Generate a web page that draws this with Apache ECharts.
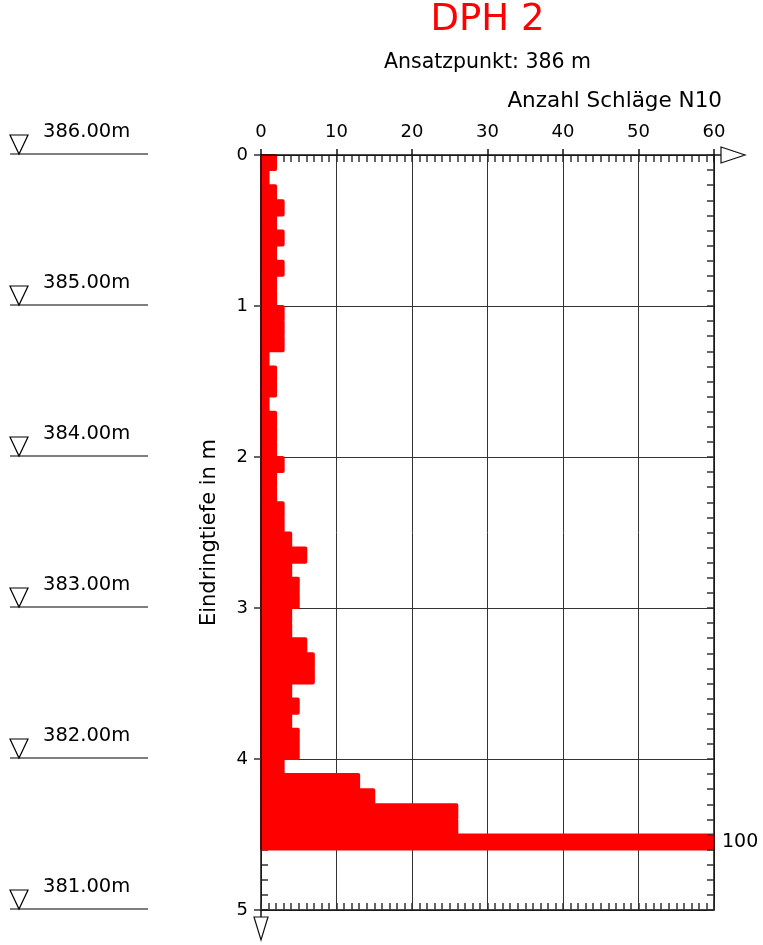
<!DOCTYPE html>
<html>
<head>
<meta charset="utf-8">
<script src="https://cdn.jsdelivr.net/npm/echarts@6/dist/echarts.min.js"></script>
<style>
html,body{margin:0;padding:0;background:#fff;}
#c{width:763px;height:945px;}
</style>
</head>
<body>
<div id="c"></div>
<script>
// ---- data ----
const chartTitle = 'DPH 2';
const subTitle = 'Ansatzpunkt: 386 m';
const xAxisTitle = 'Anzahl Schläge N10';
const yAxisTitle = 'Eindringtiefe in m';
const depthStep = 0.1;
// top depth of each 10 cm interval (m)
const depths = [0.0,0.1,0.2,0.3,0.4,0.5,0.6,0.7,0.8,0.9,
                1.0,1.1,1.2,1.3,1.4,1.5,1.6,1.7,1.8,1.9,
                2.0,2.1,2.2,2.3,2.4,2.5,2.6,2.7,2.8,2.9,
                3.0,3.1,3.2,3.3,3.4,3.5,3.6,3.7,3.8,3.9,
                4.0,4.1,4.2,4.3,4.4,4.5];
// blow counts N10
const blows = [2,1,2,3,2,3,2,3,2,2,
               3,3,3,1,2,2,1,2,2,2,
               3,2,2,3,3,4,6,4,5,5,
               4,4,6,7,7,4,5,4,5,5,
               3,13,15,26,26,100];
const xTicks = [0,10,20,30,40,50,60];
const yTicks = [0,1,2,3,4,5];
const levelDepths = [0,1,2,3,4,5];
const levelLabels = ['386.00m','385.00m','384.00m','383.00m','382.00m','381.00m'];

const X_MAX = xTicks[xTicks.length-1];
const Y_MAX = yTicks[yTicks.length-1];
const FONT = 'DejaVu Sans';
const gridRect = {left:261, top:155, width:453, height:755};
const lineC = '#111';

const chart = echarts.init(document.getElementById('c'), null, {renderer:'canvas'});

function g(){ return Object.assign({}, gridRect); }

function axisLine(show){ return {show:show, onZero:false, lineStyle:{color:lineC, width:1.5}}; }
const hiddenX = (gi, extra) => Object.assign({gridIndex:gi, type:'value', min:0, max:X_MAX,
  axisLine:axisLine(false), axisTick:{show:false}, axisLabel:{show:false}, splitLine:{show:false}}, extra||{});
const hiddenY = (gi, extra) => Object.assign({gridIndex:gi, type:'value', min:0, max:Y_MAX, inverse:true,
  axisLine:axisLine(false), axisTick:{show:false}, axisLabel:{show:false}, splitLine:{show:false}}, extra||{});

const option = {
  animation:false,
  backgroundColor:'#fff',
  grid:[g(), g(), g(), g(), {left:10, top:gridRect.top, width:138, height:gridRect.height}],
  xAxis:[
    // 0: split lines (below bars)
    hiddenX(0,{position:'top', interval:10, splitLine:{show:true, lineStyle:{color:'#333', width:1}}}),
    // 1: main top axis with labels
    hiddenX(1,{position:'top', interval:10, z:10,
      axisLine:axisLine(true),
      axisTick:{show:true, inside:false, length:6, lineStyle:{color:lineC, width:1.5}},
      axisLabel:{show:true, margin:14, fontFamily:FONT, fontSize:18, color:'#000'}}),
    // 2: top minor ticks inside
    hiddenX(2,{position:'top', interval:1,
      axisTick:{show:true, inside:true, length:7, lineStyle:{color:'#333', width:1.5}}}),
    // 3: bottom axis with minor ticks
    hiddenX(3,{position:'bottom', interval:1, z:10,
      axisLine:axisLine(true),
      axisTick:{show:true, inside:true, length:7, lineStyle:{color:'#333', width:1.5}}}),
    // 4: elevation grid
    {gridIndex:4, type:'value', min:0, max:1, show:false}
  ],
  yAxis:[
    hiddenY(0,{position:'left', interval:1, splitLine:{show:true, lineStyle:{color:'#333', width:1}}}),
    hiddenY(1,{position:'left', interval:1, z:10,
      name:yAxisTitle, nameLocation:'middle', nameRotate:90, nameGap:41,
      nameTextStyle:{fontFamily:FONT, fontSize:21, color:'#000'},
      axisLine:axisLine(true),
      axisTick:{show:true, inside:false, length:7, lineStyle:{color:'#333', width:1.5}},
      axisLabel:{show:true, margin:13, fontFamily:FONT, fontSize:18, color:'#000'}}),
    hiddenY(2,{position:'left', interval:0.1,
      axisTick:{show:true, inside:true, length:7, lineStyle:{color:'#333', width:1.5}}}),
    hiddenY(3,{position:'right', interval:0.1, z:10,
      axisLine:axisLine(true),
      axisTick:{show:true, inside:true, length:7, lineStyle:{color:'#333', width:1.5}}}),
    {gridIndex:4, type:'value', min:0, max:Y_MAX, inverse:true, show:false}
  ],
  series:[
    {
      type:'custom', xAxisIndex:0, yAxisIndex:0, z:3, clip:false,
      data: depths.map((d,i)=>[blows[i], d]),
      renderItem:(params, api)=>{
        const v = api.value(0), d = api.value(1);
        const p0 = api.coord([0, d]);
        const p1 = api.coord([Math.min(v, X_MAX), d + depthStep]);
        const children = [{type:'rect',
          shape:{x:p0[0], y:p0[1], width:p1[0]-p0[0], height:p1[1]-p0[1], r:1},
          style:{fill:'#ff0000', stroke:'#ff0000', lineWidth:2, lineJoin:'round'}}];
        if (v > X_MAX) {
          children.push({type:'text', z2:20, style:{text:String(v), x:p1[0]+8, y:(p0[1]+p1[1])/2,
            verticalAlign:'middle', align:'left', fontFamily:FONT, fontSize:19, fill:'#000'}});
        }
        return {type:'group', children};
      }
    },
    {
      type:'custom', xAxisIndex:4, yAxisIndex:4, clip:false,
      data: levelDepths.map((d,i)=>[0, d, levelLabels[i]]),
      renderItem:(params, api)=>{
        const d = api.value(1);
        const a = api.coord([0, d]);
        const b = api.coord([1, d]);
        const y = a[1] - 1;
        return {type:'group', children:[
          {type:'line', shape:{x1:a[0], y1:y, x2:b[0], y2:y}, style:{stroke:'#000', lineWidth:1.2}},
          {type:'polygon', shape:{points:[[a[0],y-19],[a[0]+18,y-19],[a[0]+9,y]]},
            style:{fill:'#fff', stroke:'#000', lineWidth:1.2}},
          {type:'text', style:{text:levelLabels[params.dataIndex], x:a[0]+33, y:y-22,
            verticalAlign:'middle', align:'left', fontFamily:FONT, fontSize:19.5, fill:'#000'}}
        ]};
      }
    }
  ]
};
chart.setOption(option);

// decorations positioned from axis scales
const tl = chart.convertToPixel({xAxisIndex:1, yAxisIndex:1}, [0, 0]);
const tr = chart.convertToPixel({xAxisIndex:1, yAxisIndex:1}, [X_MAX, 0]);
const bl = chart.convertToPixel({xAxisIndex:1, yAxisIndex:1}, [0, Y_MAX]);
const cx = (tl[0] + tr[0]) / 2;
chart.setOption({
  graphic:[
    {type:'line', z:20, shape:{x1:tr[0], y1:tr[1], x2:tr[0]+7, y2:tr[1]}, style:{stroke:lineC, lineWidth:1.5}},
    {type:'polygon', z:20, shape:{points:[[tr[0]+7,tr[1]-8],[tr[0]+31,tr[1]],[tr[0]+7,tr[1]+8]]},
      style:{fill:'#fff', stroke:lineC, lineWidth:1.2}},
    {type:'line', z:20, shape:{x1:bl[0], y1:bl[1], x2:bl[0], y2:bl[1]+7}, style:{stroke:lineC, lineWidth:1.5}},
    {type:'polygon', z:20, shape:{points:[[bl[0]-7,bl[1]+7],[bl[0]+7,bl[1]+7],[bl[0],bl[1]+30]]},
      style:{fill:'#fff', stroke:lineC, lineWidth:1.2}},
    {type:'text', z:20, style:{text:chartTitle, x:cx, y:20, align:'center', verticalAlign:'middle',
      fontFamily:FONT, fontSize:37, fill:'#ff0000'}},
    {type:'text', z:20, style:{text:subTitle, x:cx, y:63, align:'center', verticalAlign:'middle',
      fontFamily:FONT, fontSize:20.5, fill:'#000'}},
    {type:'text', z:20, style:{text:xAxisTitle, x:tr[0]+8, y:101, align:'right', verticalAlign:'middle',
      fontFamily:FONT, fontSize:21.5, fill:'#000'}}
  ]
});
</script>
</body>
</html>
